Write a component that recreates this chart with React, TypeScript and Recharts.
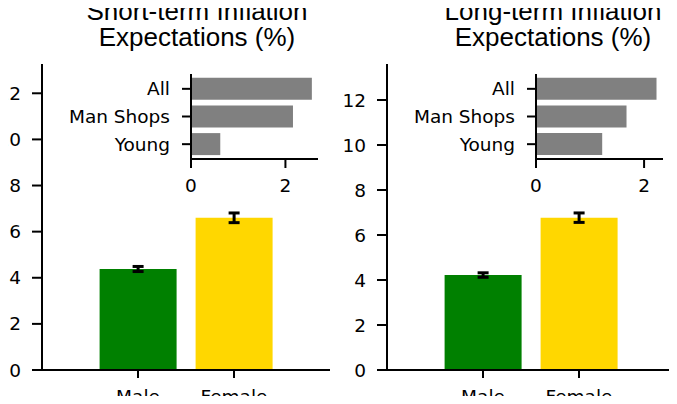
import { Bar, BarChart, Cell, ErrorBar, XAxis, YAxis } from 'recharts'

const groups = ['Male', 'Female']
const shortTermMean = [4.38, 6.6]
const shortTermErr = [0.11, 0.21]
const longTermMean = [4.22, 6.77]
const longTermErr = [0.1, 0.21]

const insetLabels = ['All', 'Man Shops', 'Young']
const shortTermInset = [2.56, 2.16, 0.62]
const longTermInset = [2.23, 1.675, 1.225]

const mainTicks = [0, 2, 4, 6, 8, 10, 12]
const insetTicks = [0, 2]

const BAR_COLORS = ['#008000', '#ffd700']

const tickFont = { fontFamily: 'DejaVu Sans', fontSize: 18.5, fill: '#000' }
const axisStyle = { stroke: '#000', strokeWidth: 2 }

type PanelProps = {
  title: string[]
  means: number[]
  errs: number[]
  yMax: number
  inset: number[]
  insetMax: number
  left: number
  width: number
  yAxisWidth: number
  rightMargin: number
  titleCenter: number
  insetLeft: number
  insetAxisWidth: number
  insetWidth: number
}

function Panel(p: PanelProps) {
  const data = groups.map((g, i) => ({ group: g, value: p.means[i], err: p.errs[i] }))
  const insetData = insetLabels.map((name, i) => ({ name, value: p.inset[i] }))

  return (
    <>
      <div
        style={{
          position: 'absolute',
          left: p.titleCenter - 170,
          top: -2,
          width: 340,
          textAlign: 'center',
          fontFamily: 'Liberation Sans, Arial, sans-serif',
          fontSize: 26,
          lineHeight: '26px',
          color: '#000',
        }}
      >
        {p.title.map((t) => (
          <div key={t}>{t}</div>
        ))}
      </div>

      <div style={{ position: 'absolute', left: p.left, top: 0 }}>
        <BarChart
          width={p.width}
          height={404}
          data={data}
          margin={{ top: 64, right: p.rightMargin, left: 0, bottom: 4 }}
          barCategoryGap="10%"
        >
          <XAxis
            dataKey="group"
            padding={{ left: 48, right: 48 }}
            height={30}
            tick={tickFont}
            tickSize={8}
            tickMargin={12}
            axisLine={axisStyle}
            tickLine={axisStyle}
          />
          <YAxis
            type="number"
            domain={[0, p.yMax]}
            ticks={mainTicks}
            width={p.yAxisWidth}
            tick={tickFont}
            tickSize={10}
            tickMargin={11}
            axisLine={axisStyle}
            tickLine={axisStyle}
          />
          <Bar dataKey="value" isAnimationActive={false}>
            {data.map((_d, i) => (
              <Cell key={`c-${i}`} fill={BAR_COLORS[i % BAR_COLORS.length]} />
            ))}
            <ErrorBar dataKey="err" width={5.5} strokeWidth={3} stroke="#000" direction="y" />
          </Bar>
        </BarChart>
      </div>

      <div style={{ position: 'absolute', left: p.insetLeft, top: 70 }}>
        <BarChart
          layout="vertical"
          width={p.insetWidth}
          height={129}
          data={insetData}
          margin={{ top: 4, right: 6, left: 0, bottom: 0 }}
          barCategoryGap="10%"
        >
          <XAxis
            type="number"
            domain={[0, p.insetMax]}
            ticks={insetTicks}
            height={40}
            tick={tickFont}
            tickSize={9}
            tickMargin={11}
            axisLine={axisStyle}
            tickLine={axisStyle}
          />
          <XAxis
            xAxisId="top"
            orientation="top"
            type="number"
            domain={[0, p.insetMax]}
            height={0}
            tick={false}
            tickLine={false}
            axisLine={axisStyle}
          />
          <YAxis
            type="category"
            dataKey="name"
            width={p.insetAxisWidth}
            padding={{ top: 1, bottom: 1 }}
            tick={tickFont}
            tickSize={9}
            tickMargin={12}
            axisLine={axisStyle}
            tickLine={axisStyle}
          />
          <YAxis
            yAxisId="right"
            orientation="right"
            type="category"
            dataKey="name"
            width={0}
            tick={false}
            tickLine={false}
            axisLine={axisStyle}
          />
          <Bar dataKey="value" fill="#808080" isAnimationActive={false} />
        </BarChart>
      </div>
    </>
  )
}

export default function App() {
  return (
    <div style={{ position: 'relative', margin: -8, width: 677, height: 404, background: '#fff', overflow: 'hidden' }}>
      <Panel
        title={['Short-term Inflation', 'Expectations (%)']}
        means={shortTermMean}
        errs={shortTermErr}
        yMax={13.27}
        inset={shortTermInset}
        insetMax={2.69}
        left={0}
        width={340}
        yAxisWidth={42}
        rightMargin={10}
        titleCenter={197}
        insetLeft={40}
        insetAxisWidth={151}
        insetWidth={284}
      />
      <Panel
        title={['Long-term Inflation', 'Expectations (%)']}
        means={longTermMean}
        errs={longTermErr}
        yMax={13.6}
        inset={longTermInset}
        insetMax={2.35}
        left={340}
        width={337}
        yAxisWidth={47}
        rightMargin={2}
        titleCenter={553}
        insetLeft={380}
        insetAxisWidth={156}
        insetWidth={289}
      />
    </div>
  )
}
